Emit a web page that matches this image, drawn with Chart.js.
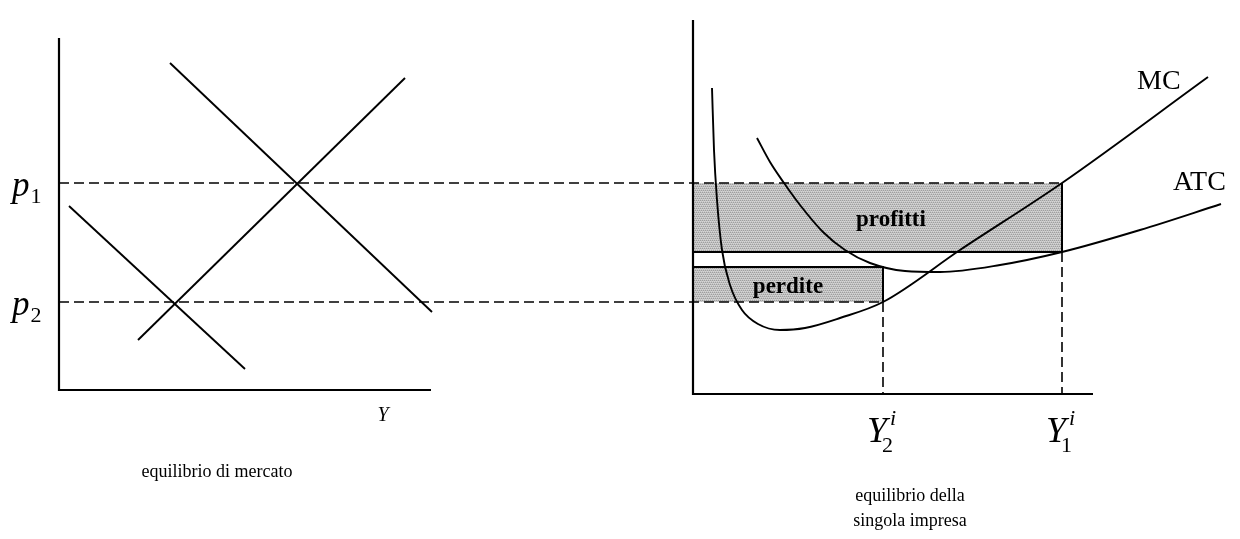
<!DOCTYPE html>
<html>
<head>
<meta charset="utf-8">
<script src="https://cdn.jsdelivr.net/npm/chart.js@4/dist/chart.umd.min.js"></script>
<style>
  html, body { margin: 0; padding: 0; background: #ffffff; }
  #c { display: block; }
</style>
</head>
<body>
<canvas id="c" width="1240" height="539"></canvas>
<script>
// ---- data (diagram units: x = quantity axis, y = price) ----
const p1 = 35.6;
const p2 = 23.7;
const Y2i = 88.3;
const Y1i = 106.2;
const atcAtY1 = 28.7;
const perditeTop = 27.2;

const leftAxis  = [[5.9, 50.1], [5.9, 14.9], [43.1, 14.9]];
const rightAxis = [[69.3, 51.9], [69.3, 14.5], [109.3, 14.5]];

const demandHigh = [[17.0, 47.6], [43.2, 22.7]];
const supply     = [[13.8, 19.9], [40.5, 46.1]];
const demandLow  = [[6.9, 33.3], [24.5, 17.0]];

const mcCurve = [[71.2,45.1],[71.4,38.9],[71.7,33.9],[72.2,28.9],[73.0,25.4],[74.2,22.9],[75.8,21.5],[78.0,20.9],[80.5,21.1],[84.0,22.1],[88.3,23.7],[96.0,28.9],[106.2,35.6],[120.8,46.2]];
const atcCurve = [[75.7,40.1],[77.0,37.7],[78.4,35.6],[80.0,33.4],[82.3,30.7],[84.5,28.9],[87.0,27.6],[90.5,26.8],[94.0,26.7],[100.0,27.4],[106.2,28.7],[114.0,30.9],[122.1,33.5]];

const profittiBox = [[69.3, p1], [Y1i, p1], [Y1i, atcAtY1], [69.3, atcAtY1], [69.3, p1]];
const perditeBox  = [[69.3, perditeTop], [Y2i, perditeTop], [Y2i, p2], [69.3, p2], [69.3, perditeTop]];

const p1Line = [[5.9, p1], [Y1i, p1]];
const p2Line = [[5.9, p2], [Y2i, p2]];
const y2Drop = [[Y2i, p2], [Y2i, 14.5]];
const y1Drop = [[Y1i, atcAtY1], [Y1i, 14.5]];
const profittiEdges = [[69.3, atcAtY1], [Y1i, atcAtY1], [Y1i, p1]];
const perditeEdges  = [[69.3, perditeTop], [Y2i, perditeTop], [Y2i, p2]];

const labels = {
  left: 'equilibrio di mercato',
  right: ['equilibrio della', 'singola impresa'],
  profit: 'profitti',
  loss: 'perdite',
  mc: 'MC',
  atc: 'ATC',
  yAxis: 'Y'
};

// ---- helpers ----
const pts = a => a.map(([x, y]) => ({ x, y }));

function hatch() {
  const c = document.createElement('canvas');
  c.width = 4; c.height = 4;
  const g = c.getContext('2d');
  g.fillStyle = '#c2c2c2'; g.fillRect(0, 0, 4, 4);
  g.fillStyle = '#9e9e9e';
  for (let i = 0; i < 4; i++) g.fillRect(i, (i * 2) % 4, 1, 1);
  g.fillStyle = '#d6d6d6';
  for (let i = 0; i < 4; i++) g.fillRect(i, (i * 2 + 1) % 4, 1, 1);
  return g.createPattern(c, 'repeat');
}
const pattern = hatch();

function line(data, opts) {
  return Object.assign({
    data: pts(data), showLine: true, pointRadius: 0, borderColor: '#000',
    borderWidth: 1.9, fill: false, tension: 0, order: 1
  }, opts || {});
}

const datasets = [
  line(profittiBox, { fill: 'shape', backgroundColor: pattern, borderWidth: 0, borderColor: 'rgba(0,0,0,0)', order: 10 }),
  line(perditeBox,  { fill: 'shape', backgroundColor: pattern, borderWidth: 0, borderColor: 'rgba(0,0,0,0)', order: 10 }),
  line(leftAxis,  { borderWidth: 2.2 }),
  line(rightAxis, { borderWidth: 2.2 }),
  line(demandHigh), line(supply), line(demandLow),
  line(p1Line, { borderDash: [10, 5], borderWidth: 1.6 }),
  line(p2Line, { borderDash: [10, 5], borderWidth: 1.6 }),
  line(y2Drop, { borderDash: [10, 5], borderWidth: 1.6 }),
  line(y1Drop, { borderDash: [10, 5], borderWidth: 1.6 }),
  line(profittiEdges, { borderWidth: 2 }),
  line(perditeEdges,  { borderWidth: 2 }),
  line(mcCurve,  { cubicInterpolationMode: 'monotone' }),
  line(atcCurve, { cubicInterpolationMode: 'monotone' })
];

const SERIF = '"Liberation Serif", "Times New Roman", serif';

const textPlugin = {
  id: 'texts',
  afterDatasetsDraw(chart) {
    const { ctx } = chart;
    const X = v => chart.scales.x.getPixelForValue(v);
    const Y = v => chart.scales.y.getPixelForValue(v);
    ctx.save();
    ctx.fillStyle = '#000';
    ctx.textBaseline = 'alphabetic';

    function text(str, x, y, font, align) {
      ctx.font = font; ctx.textAlign = align || 'left'; ctx.fillText(str, x, y);
      return ctx.measureText(str).width;
    }
    // price labels p1, p2
    function priceLabel(sub, yv) {
      const x0 = 12, base = Y(yv) + 13;
      const w = text('p', x0, base, 'italic 35px ' + SERIF);
      text(sub, x0 + w + 1, base + 7, '22px ' + SERIF);
    }
    priceLabel('1', p1);
    priceLabel('2', p2);

    // quantity labels Y^i_k
    function qLabel(sub, xv) {
      const xc = X(xv), base = 442;
      ctx.font = 'italic 36px ' + SERIF;
      const w = ctx.measureText('Y').width;
      const x0 = xc - 16;
      text('Y', x0, base, 'italic 36px ' + SERIF);
      text(sub, x0 + w - 5, base + 10, '22px ' + SERIF);
      text('i', x0 + w + 3, base - 17, 'italic 22px ' + SERIF);
    }
    qLabel('2', Y2i);
    qLabel('1', Y1i);

    text(labels.yAxis, 383, 421, 'italic 20px ' + SERIF, 'center');
    text(labels.left, 217, 477, '18px ' + SERIF, 'center');
    text(labels.right[0], 910, 501, '18px ' + SERIF, 'center');
    text(labels.right[1], 910, 526, '18px ' + SERIF, 'center');
    text(labels.mc, 1137, 89, '28px ' + SERIF);
    text(labels.atc, 1173, 190, '28px ' + SERIF);
    text(labels.profit, 891, 226, 'bold 23px ' + SERIF, 'center');
    text(labels.loss, 788, 293, 'bold 23px ' + SERIF, 'center');
    ctx.restore();
  }
};

new Chart(document.getElementById('c'), {
  type: 'scatter',
  data: { datasets },
  options: {
    responsive: false,
    animation: false,
    events: [],
    layout: { padding: 0 },
    plugins: { legend: { display: false }, tooltip: { enabled: false } },
    scales: {
      x: { type: 'linear', min: 0, max: 124, display: false },
      y: { type: 'linear', min: 0, max: 53.9, display: false }
    }
  },
  plugins: [textPlugin]
});
</script>
</body>
</html>
